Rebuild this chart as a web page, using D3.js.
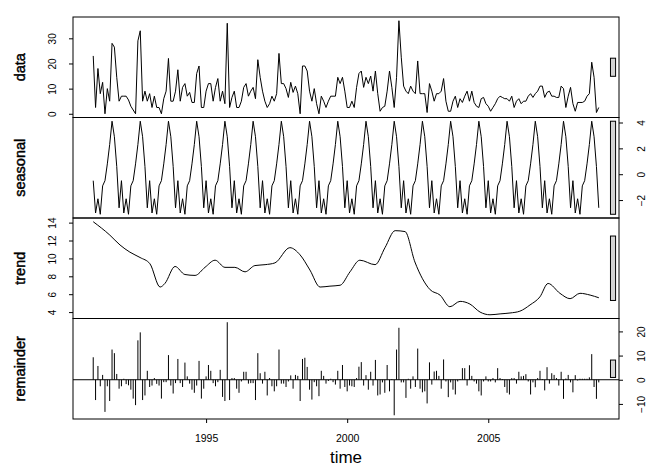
<!DOCTYPE html>
<meta charset="utf-8">
<style>
    body { margin: 0; background: #fff; }
    svg { font-family: Arial, "Liberation Sans", sans-serif; }
    text { fill: #000; }
    .box { fill: none; stroke: #000; stroke-width: 1; }
    .line { fill: none; stroke: #000; stroke-width: 1; }
    .axis path { display: none; }
    .axis line { stroke: #000; }
    .ylab { font-size: 14.5px; stroke: #000; stroke-width: 0.45; }
</style>
<body>
<script src="https://d3js.org/d3.v7.min.js"></script>
<script>
    // monthly series, Jan 1991 .. Dec 2008
    var startYear = 1991;
    var dataValues = [
        23, 2.5, 18, 8, 12.5, 0, 10, 5, 28, 26.5, 14.5, 5,
        7, 7, 7, 5.5, 3, 1.5, 0, 29, 33, 5, 9, 5,
        8, 2.5, 7, 2.5, 2.5, 0, 6, 9, 22, 5, 5, 9,
        17.5, 5, 10.5, 12, 7, 8.5, 4.5, 4.5, 16, 19, 2.5, 2.5,
        9, 12, 12, 5, 10.5, 14, 5, 9, 4, 36, 2.5, 6.5,
        9, 2.5, 2.5, 5, 10.5, 12, 7, 9, 10.5, 6, 21.5, 14.5,
        9, 5, 2.5, 4, 7, 5, 8, 24, 12, 12, 10, 6.5,
        12.5, 8.5, 11, 8, 0, 19, 19, 17, 9, 5, 10, 4,
        0, 7, 5, 2.5, 5, 7, 7, 7, 14.5, 12, 14.5, 9,
        2.5, 2.5, 5, 2.5, 10.5, 16, 17, 10.5, 14.5, 12, 15, 9,
        17, 8, 1, 2.5, 3, 9, 17, 10.5, 2.5, 14.5, 37, 22.5,
        11, 9, 8, 11, 9, 8, 21, 8, 8, 8, 0.5, 12,
        9, 5, 8, 8, 9, 14, 5, 1, 1, 5, 7, 2.5,
        6, 4.5, 7, 9, 5, 9, 4.5, 3, 2.5, 6, 6.5, 4,
        3, 1, 2.5, 4, 6, 7, 6.5, 6, 6, 5, 7, 2.5,
        5, 6, 4, 5, 5, 7, 8, 6.5, 8, 9, 11, 11,
        6.5, 8.5, 9, 7, 7, 6.5, 6.5, 11, 10, 2.5, 7, 10.5,
        4, 1, 4.5, 4.5, 4.5, 5, 7, 8, 20.5, 14.5, 0.5, 2.5
    ];
    var seasonalValues = [
        -0.5, -3.0, -1.9, -3.1, -0.9, -0.5, 0.8, 2.3, 4.1, 2.9, 0.6, -2.6,
        -0.5, -3.0, -1.9, -3.1, -0.9, -0.5, 0.8, 2.3, 4.1, 2.9, 0.6, -2.6,
        -0.5, -3.0, -1.9, -3.1, -0.9, -0.5, 0.8, 2.3, 4.1, 2.9, 0.6, -2.6,
        -0.5, -3.0, -1.9, -3.1, -0.9, -0.5, 0.8, 2.3, 4.1, 2.9, 0.6, -2.6,
        -0.5, -3.0, -1.9, -3.1, -0.9, -0.5, 0.8, 2.3, 4.1, 2.9, 0.6, -2.6,
        -0.5, -3.0, -1.9, -3.1, -0.9, -0.5, 0.8, 2.3, 4.1, 2.9, 0.6, -2.6,
        -0.5, -3.0, -1.9, -3.1, -0.9, -0.5, 0.8, 2.3, 4.1, 2.9, 0.6, -2.6,
        -0.5, -3.0, -1.9, -3.1, -0.9, -0.5, 0.8, 2.3, 4.1, 2.9, 0.6, -2.6,
        -0.5, -3.0, -1.9, -3.1, -0.9, -0.5, 0.8, 2.3, 4.1, 2.9, 0.6, -2.6,
        -0.5, -3.0, -1.9, -3.1, -0.9, -0.5, 0.8, 2.3, 4.1, 2.9, 0.6, -2.6,
        -0.5, -3.0, -1.9, -3.1, -0.9, -0.5, 0.8, 2.3, 4.1, 2.9, 0.6, -2.6,
        -0.5, -3.0, -1.9, -3.1, -0.9, -0.5, 0.8, 2.3, 4.1, 2.9, 0.6, -2.6,
        -0.5, -3.0, -1.9, -3.1, -0.9, -0.5, 0.8, 2.3, 4.1, 2.9, 0.6, -2.6,
        -0.5, -3.0, -1.9, -3.1, -0.9, -0.5, 0.8, 2.3, 4.1, 2.9, 0.6, -2.6,
        -0.5, -3.0, -1.9, -3.1, -0.9, -0.5, 0.8, 2.3, 4.1, 2.9, 0.6, -2.6,
        -0.5, -3.0, -1.9, -3.1, -0.9, -0.5, 0.8, 2.3, 4.1, 2.9, 0.6, -2.6,
        -0.5, -3.0, -1.9, -3.1, -0.9, -0.5, 0.8, 2.3, 4.1, 2.9, 0.6, -2.6,
        -0.5, -3.0, -1.9, -3.1, -0.9, -0.5, 0.8, 2.3, 4.1, 2.9, 0.6, -2.6
    ];
    var trendTimes = [1991.0, 1991.59, 1991.95, 1992.30, 1992.66, 1993.01, 1993.37, 1993.54, 1993.90,
        1994.25, 1994.61, 1994.96, 1995.32, 1995.67, 1996.02, 1996.38, 1996.73, 1997.09, 1997.44,
        1997.97, 1998.33, 1998.68, 1999.04, 1999.39, 1999.75, 2000.10, 2000.45, 2000.99, 2001.34,
        2001.70, 2002.05, 2002.40, 2002.94, 2003.29, 2003.64, 2004.00, 2004.35, 2004.71, 2005.06,
        2005.42, 2005.77, 2006.12, 2006.48, 2006.83, 2007.12, 2007.54, 2007.90, 2008.25, 2008.61, 2008.92];
    var trendValues = [14.1, 12.6, 11.5, 10.7, 10.1, 9.4, 6.8, 7.2, 9.1,
        8.2, 8.1, 9.0, 9.8, 9.0, 9.0, 8.5, 9.2, 9.3, 9.5,
        11.2, 10.4, 8.7, 6.8, 6.9, 7.0, 8.5, 9.8, 9.3, 11.2,
        13.1, 13.0, 9.6, 6.5, 5.9, 4.6, 5.2, 4.9, 4.0, 3.7,
        3.8, 3.9, 4.1, 4.8, 5.7, 7.2, 6.1, 5.5, 6.1, 5.9, 5.6];
    var remainderValues = [
        9.3, -8.4, 5.7, -2.7, 2.0, -13.3, -2.7, -8.8, 12.5, 11.0, 2.4, -3.7,
        -2.7, 0.4, -1.8, -2.3, -4.1, -7.8, -10.5, 16.3, 19.6, -8.4, -6.5, 3.7,
        -3.0, -2.4, 0.7, -1.7, -2.4, -7.8, -1.0, -1.0, 10.2, -2.4, -5.7, -1.4,
        8.6, -1.4, -3.0, 7.1, 1.4, -1.6, -4.1, -5.4, -2.4, 7.8, -7.8, -3.7,
        1.4, 6.1, 3.7, -1.4, -2.7, -1.0, 4.1, -7.1, -8.8, 23.8, -8.4, 0.7,
        0.7, -3.7, -5.4, -0.7, 3.3, 3.3, -1.6, -1.4, -1.4, -8.4, 11.0, 2.7,
        -1.6, 3.3, -6.5, 0.7, -2.7, -4.8, -2.7, 12.5, -1.6, -1.6, -3.0, -0.7,
        1.8, -3.7, 2.0, 1.6, -8.8, 8.6, 9.1, 5.3, -4.1, -8.2, -1.0, -2.7,
        -6.8, 3.7, 1.6, -1.6, -0.5, 0.4, -1.0, -2.0, 3.7, -3.7, 6.1, -3.0,
        -4.8, -2.4, -2.7, -3.0, 0.7, 5.4, 7.3, -2.4, 1.9, -4.1, 3.3, -2.4,
        8.2, -6.5, -6.1, -1.1, -5.4, 6.1, -4.8, 0.3, -14.7, 12.5, 21.5, -1.1,
        -1.1, -7.5, 0.4, -3.7, 1.4, -3.0, 12.9, -3.7, -5.2, -4.8, -9.8, 7.2,
        -2.0, 3.4, 3.7, 1.6, -3.7, 8.4, -0.7, -7.2, -1.1, -4.1, -6.1, -0.7,
        0.3, 4.8, 4.8, -2.4, 6.0, 1.6, -0.7, -1.6, -4.8, -6.5, -0.7, 1.4,
        -0.7, -0.7, 0.7, -1.1, 4.8, 0.7, 0.3, -3.0, -5.4, -6.1, 0.7, 0.7,
        -1.6, 3.3, 1.4, 1.6, 2.3, -0.7, -6.1, -1.1, -3.1, 0.7, 3.7, 0.3,
        -4.4, 5.2, -1.6, 2.7, 2.0, 0.7, -2.4, 3.3, -7.9, 0.5, 2.0, -1.1,
        -5.2, 1.9, -0.3, 0.4, 0.4, 0.4, 0.4, 1.0, 10.6, -3.0, -7.9, -1.1
    ];
    var yearTicks = [1995, 2000, 2005];
    var panelNames = ["data", "seasonal", "trend", "remainder"];
    var dataTicks = [0, 10, 20, 30],
        seasonalTicks = [-2, 0, 2, 4],
        trendTicks = [4, 6, 8, 10, 12, 14],
        remainderTicks = [-10, 0, 10, 20];

    var width = 665, height = 475;
    var plotLeft = 73, plotRight = 619, plotTop = 17, panelH = 100.5;

    var times = dataValues.map(function(d, i) { return startYear + i / 12; });
    var tExt = d3.extent(times), tPad = (tExt[1] - tExt[0]) * 0.04;
    var x = d3.scaleLinear().domain([tExt[0] - tPad, tExt[1] + tPad]).range([plotLeft, plotRight]);

    var svg = d3.select("body").append("svg")
        .attr("width", width)
        .attr("height", height);

    var panels = [
        {name: panelNames[0], values: dataValues, ticks: dataTicks, side: "left", type: "line"},
        {name: panelNames[1], values: seasonalValues, ticks: seasonalTicks, side: "right", type: "line"},
        {name: panelNames[2], values: trendValues, times: trendTimes, ticks: trendTicks, side: "left", type: "curve"},
        {name: panelNames[3], values: remainderValues, ticks: remainderTicks, side: "right", type: "bars"}
    ];

    // R's range bars: all the same length (smallest range), centred on each panel
    var minRange = d3.min(panels, function(p) { var e = d3.extent(p.values); return e[1] - e[0]; });

    panels.forEach(function(p, k) {
        var y0 = plotTop + k * panelH, y1 = y0 + panelH;
        var e = d3.extent(p.values), pad = (e[1] - e[0]) * 0.04;
        var y = d3.scaleLinear().domain([e[0] - pad, e[1] + pad]).range([y1, y0]);
        var g = svg.append("g");

        if (p.type === "line") {
            g.append("path").attr("class", "line")
                .attr("d", d3.line().x(function(d, i) { return x(times[i]); }).y(function(d) { return y(d); })(p.values));
        } else if (p.type === "curve") {
            g.append("path").attr("class", "line")
                .attr("d", d3.line().curve(d3.curveMonotoneX)
                    .x(function(d, i) { return x(p.times[i]); }).y(function(d) { return y(d); })(p.values));
        } else {
            g.append("line").attr("x1", plotLeft).attr("x2", plotRight)
                .attr("y1", y(0)).attr("y2", y(0)).attr("stroke", "#000");
            g.selectAll("line.bar").data(p.values).enter().append("line")
                .attr("class", "bar")
                .attr("x1", function(d, i) { return x(times[i]); })
                .attr("x2", function(d, i) { return x(times[i]); })
                .attr("y1", y(0)).attr("y2", function(d) { return y(d); })
                .attr("stroke", "#000");
        }

        g.append("rect").attr("class", "box")
            .attr("x", plotLeft).attr("y", y0).attr("width", plotRight - plotLeft).attr("height", panelH);

        // range bar
        var dx = (x.domain()[1] - x.domain()[0]) / 64, mid = (e[0] + e[1]) / 2;
        g.append("rect")
            .attr("x", x(x.domain()[1] - dx))
            .attr("width", x(x.domain()[1] - 0.4 * dx) - x(x.domain()[1] - dx))
            .attr("y", y(mid + minRange / 2))
            .attr("height", y(mid - minRange / 2) - y(mid + minRange / 2))
            .attr("fill", "#d3d3d3").attr("stroke", "#000");

        var axis = (p.side === "left" ? d3.axisLeft(y) : d3.axisRight(y))
            .tickValues(p.ticks).tickSize(4).tickFormat(d3.format("d"));
        var ag = g.append("g").attr("class", "axis")
            .attr("transform", "translate(" + (p.side === "left" ? plotLeft : plotRight) + ",0)")
            .call(axis);
        ag.selectAll(".tick text")
            .attr("transform", "rotate(-90)")
            .attr("x", 0)
            .attr("y", p.side === "left" ? -21 : 22)
            .attr("dy", "0.35em")
            .attr("text-anchor", "middle")
            .style("font-size", "10px")
            .style("font-family", "Arial, 'Liberation Sans', sans-serif");

        svg.append("text")
            .attr("class", "ylab")
            .attr("transform", "translate(20," + (y0 + panelH / 2) + ") rotate(-90)")
            .attr("dy", "0.35em")
            .attr("text-anchor", "middle")
            .text(p.name);
    });

    var xAxis = d3.axisBottom(x).tickValues(yearTicks).tickSize(4).tickPadding(12).tickFormat(d3.format("d"));
    svg.append("g").attr("class", "axis")
        .attr("transform", "translate(0," + (plotTop + 4 * panelH) + ")")
        .call(xAxis)
        .selectAll("text")
        .style("font-size", "10.5px")
        .style("font-family", "Arial, 'Liberation Sans', sans-serif");

    svg.append("text")
        .attr("x", (plotLeft + plotRight) / 2)
        .attr("y", 463)
        .attr("text-anchor", "middle")
        .style("font-size", "17px")
        .text("time");
</script>
